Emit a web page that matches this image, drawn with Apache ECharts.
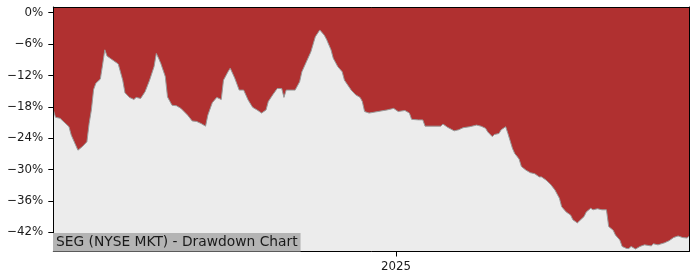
<!DOCTYPE html>
<html>
<head>
<meta charset="utf-8">
<script src="https://cdn.jsdelivr.net/npm/echarts@6/dist/echarts.min.js"></script>
<style>
  html, body { margin: 0; padding: 0; background: #fff; }
  #chart { width: 700px; height: 280px; }
</style>
</head>
<body>
<div id="chart"></div>
<script>
// dates (calendar days, Aug 2024 - May 2025)
const dates = [
  '2024-08-01', '2024-08-02', '2024-08-04', '2024-08-06', '2024-08-08', '2024-08-09',
  '2024-08-12', '2024-08-14', '2024-08-16', '2024-08-17', '2024-08-18', '2024-08-19',
  '2024-08-20', '2024-08-22', '2024-08-23', '2024-08-24', '2024-08-25', '2024-08-27',
  '2024-08-30', '2024-09-01', '2024-09-02', '2024-09-04', '2024-09-06', '2024-09-07',
  '2024-09-09', '2024-09-11', '2024-09-13', '2024-09-15', '2024-09-16', '2024-09-17',
  '2024-09-18', '2024-09-20', '2024-09-21', '2024-09-23', '2024-09-25', '2024-09-27',
  '2024-09-30', '2024-10-02', '2024-10-04', '2024-10-06', '2024-10-08', '2024-10-09',
  '2024-10-11', '2024-10-13', '2024-10-15', '2024-10-16', '2024-10-18', '2024-10-19',
  '2024-10-21', '2024-10-23', '2024-10-25', '2024-10-27', '2024-10-29', '2024-10-31',
  '2024-11-02', '2024-11-04', '2024-11-05', '2024-11-07', '2024-11-09', '2024-11-11',
  '2024-11-12', '2024-11-13', '2024-11-17', '2024-11-19', '2024-11-20', '2024-11-22',
  '2024-11-24', '2024-11-26', '2024-11-28', '2024-11-30', '2024-12-01', '2024-12-03',
  '2024-12-04', '2024-12-06', '2024-12-08', '2024-12-09', '2024-12-12', '2024-12-14',
  '2024-12-16', '2024-12-17', '2024-12-18', '2024-12-20', '2024-12-24', '2024-12-28',
  '2024-12-31', '2025-01-02', '2025-01-05', '2025-01-07', '2025-01-08', '2025-01-11',
  '2025-01-13', '2025-01-14', '2025-01-21', '2025-01-22', '2025-01-24', '2025-01-27',
  '2025-01-29', '2025-01-31', '2025-02-03', '2025-02-06', '2025-02-08', '2025-02-10',
  '2025-02-11', '2025-02-13', '2025-02-14', '2025-02-16', '2025-02-17', '2025-02-19',
  '2025-02-20', '2025-02-22', '2025-02-23', '2025-02-25', '2025-02-26', '2025-02-28',
  '2025-03-02', '2025-03-04', '2025-03-06', '2025-03-07', '2025-03-09', '2025-03-11',
  '2025-03-13', '2025-03-15', '2025-03-16', '2025-03-18', '2025-03-20', '2025-03-21',
  '2025-03-23', '2025-03-24', '2025-03-26', '2025-03-27', '2025-03-29', '2025-03-30',
  '2025-04-01', '2025-04-03', '2025-04-05', '2025-04-06', '2025-04-08', '2025-04-09',
  '2025-04-11', '2025-04-12', '2025-04-14', '2025-04-15', '2025-04-16', '2025-04-18',
  '2025-04-20', '2025-04-22', '2025-04-25', '2025-04-26', '2025-04-28', '2025-05-01',
  '2025-05-03', '2025-05-05', '2025-05-07', '2025-05-09', '2025-05-11', '2025-05-12'
];

// drawdown from running peak, in %
const drawdown = [
  -18.6, -20.0, -20.2, -21.0, -21.8, -23.4,
  -26.3, -25.6, -24.7, -21.2, -18.6, -14.7,
  -13.5, -12.7, -10.0, -7.1, -8.3, -8.9,
  -9.8, -12.9, -15.3, -16.2, -16.6, -16.2,
  -16.4, -15.1, -12.9, -10.3, -7.8, -8.7,
  -9.7, -12.2, -16.1, -17.7, -17.8, -18.3,
  -19.6, -20.7, -20.8, -21.2, -21.7, -19.6,
  -17.2, -16.2, -16.6, -12.9, -11.3, -10.6,
  -12.5, -14.8, -14.8, -16.7, -18.1, -18.6,
  -19.2, -18.6, -17.0, -15.7, -14.5, -14.5,
  -16.2, -14.8, -14.8, -13.2, -11.3, -9.4,
  -7.5, -4.6, -3.3, -4.3, -5.1, -7.1,
  -8.7, -10.3, -11.3, -12.9, -14.8, -15.7,
  -16.2, -17.0, -18.9, -19.2, -18.9, -18.6,
  -18.3, -18.9, -18.7, -19.2, -20.4, -20.5,
  -20.5, -21.7, -21.7, -21.3, -21.9, -22.6,
  -22.4, -22.0, -21.8, -21.5, -21.7, -22.1,
  -22.8, -23.7, -23.3, -23.1, -22.4, -21.8,
  -23.1, -25.9, -26.9, -28.0, -29.4, -30.1,
  -30.6, -30.8, -31.4, -31.4, -32.0, -32.8,
  -33.9, -35.5, -37.1, -38.1, -38.7, -39.6,
  -40.2, -39.8, -39.0, -38.1, -37.4, -37.7,
  -37.5, -37.7, -37.7, -40.9, -41.6, -42.5,
  -43.5, -44.7, -45.1, -45.1, -44.7, -45.2,
  -44.7, -44.4, -44.6, -44.2, -44.4, -44.0,
  -43.6, -43.0, -42.7, -43.0, -43.1, -42.7
];

const yTicks = [0, -6, -12, -18, -24, -30, -36, -42];
const xTickDates = ['2025-01-01'];
const xTickLabels = ['2025'];
const chartLabel = 'SEG (NYSE MKT) - Drawdown Chart';

// 'YYYY-MM-DD' -> local timestamp
function toTime(s) {
  const p = s.split('-');
  return new Date(+p[0], +p[1] - 1, +p[2]).getTime();
}

const seriesData = dates.map((d, i) => [toTime(d), drawdown[i]]);
const xTickValues = xTickDates.map(toTime);
const xMin = toTime(dates[0]);
const xMax = toTime(dates[dates.length - 1]);
const yMin = -45.67;
const yMax = 1.09;

const spine = { show: true, onZero: false, lineStyle: { color: '#000', width: 1 } };

const chart = echarts.init(document.getElementById('chart'), null, { renderer: 'canvas' });

const option = {
  animation: false,
  textStyle: { fontFamily: 'DejaVu Sans' },
  title: {
    text: chartLabel,
    left: 53,
    top: 233,
    padding: [1, 3, 1, 3],
    backgroundColor: '#b4b4b4',
    z: 6,
    textStyle: {
      fontFamily: 'DejaVu Sans',
      fontSize: 13.8,
      fontWeight: 'normal',
      color: '#1a1a1a',
      lineHeight: 16.5
    }
  },
  grid: {
    left: 53.3,
    right: 10.7,
    top: 7,
    bottom: 28.5,
    show: true,
    backgroundColor: '#b03030',
    borderWidth: 0
  },
  // timestamps on a value axis so the single year tick can be placed exactly
  xAxis: [
    {
      type: 'value',
      position: 'bottom',
      min: xMin,
      max: xMax,
      z: 5,
      axisLine: spine,
      axisTick: {
        show: true,
        length: 5,
        customValues: xTickValues,
        lineStyle: { color: '#000', width: 1 }
      },
      axisLabel: {
        customValues: xTickValues,
        margin: 9,
        fontSize: 11.8,
        color: '#1a1a1a',
        fontFamily: 'DejaVu Sans',
        formatter: function (v) {
          const i = xTickValues.indexOf(v);
          return i >= 0 ? xTickLabels[i] : '';
        }
      },
      splitLine: { show: false }
    },
    {
      type: 'value',
      position: 'top',
      min: xMin,
      max: xMax,
      z: 5,
      axisLine: spine,
      axisTick: { show: false },
      axisLabel: { show: false },
      splitLine: { show: false }
    }
  ],
  yAxis: [
    {
      type: 'value',
      position: 'left',
      min: yMin,
      max: yMax,
      z: 5,
      axisLine: spine,
      axisTick: {
        show: true,
        length: 5,
        customValues: yTicks,
        lineStyle: { color: '#000', width: 1 }
      },
      axisLabel: {
        customValues: yTicks,
        margin: 10,
        fontSize: 11.8,
        color: '#1a1a1a',
        fontFamily: 'DejaVu Sans',
        formatter: function (v) {
          return (v < 0 ? '\u2212' + Math.abs(v) : v) + '%';
        }
      },
      splitLine: { show: false }
    },
    {
      type: 'value',
      position: 'right',
      min: yMin,
      max: yMax,
      z: 5,
      axisLine: spine,
      axisTick: { show: false },
      axisLabel: { show: false },
      splitLine: { show: false }
    }
  ],
  series: [
    {
      name: 'Drawdown',
      type: 'line',
      xAxisIndex: 0,
      yAxisIndex: 0,
      data: seriesData,
      symbol: 'none',
      lineStyle: { color: '#9a9a9a', width: 1 },
      areaStyle: { color: '#ececec', opacity: 1, origin: 'start' },
      z: 1
    }
  ]
};

chart.setOption(option);
</script>
</body>
</html>
